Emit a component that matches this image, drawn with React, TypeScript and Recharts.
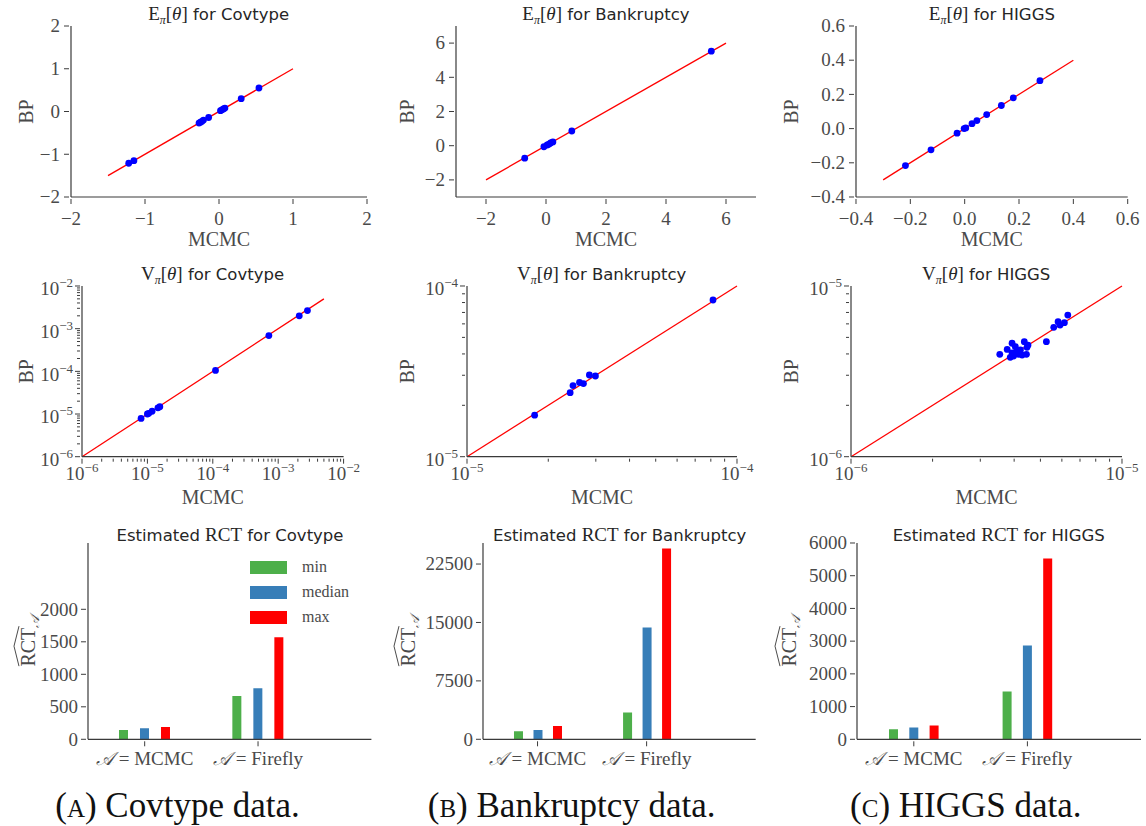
import React from "react";
import {
  ScatterChart,
  Scatter,
  XAxis,
  YAxis,
  ReferenceLine,
  BarChart,
  Bar,
  Legend,
  Label,
} from "recharts";

const SERIF = '"Liberation Serif", "DejaVu Serif", serif';
const SANS = '"DejaVu Sans", sans-serif';
const TITLE_INK = "#262626";
const TICK_INK = "#4a4a4a";
const AXIS_INK = "#3a3a3a";
const BLUE = "#0000ff";
const RED = "#ff0000";
const GREEN = "#4daf4a";
const STEEL = "#377eb8";

// ---- posterior means: MCMC vs BP ----
const covMeanMcmc = [-1.22, -1.15, -0.27, -0.25, -0.23, -0.21, -0.14, 0.02, 0.04, 0.06, 0.08, 0.3, 0.54];
const covMeanBp = [-1.21, -1.15, -0.27, -0.25, -0.23, -0.2, -0.14, 0.02, 0.04, 0.06, 0.08, 0.3, 0.55];
const bkMeanMcmc = [-0.71, -0.07, 0.04, 0.09, 0.14, 0.17, 0.23, 0.86, 5.51];
const bkMeanBp = [-0.73, -0.06, 0.04, 0.08, 0.14, 0.18, 0.22, 0.86, 5.53];
const hgMeanMcmc = [-0.218, -0.124, -0.028, -0.002, 0.004, 0.027, 0.045, 0.081, 0.135, 0.179, 0.277];
const hgMeanBp = [-0.216, -0.124, -0.027, 0.0, 0.004, 0.029, 0.047, 0.082, 0.135, 0.18, 0.28];

// ---- posterior variances: MCMC vs BP ----
const covVarMcmc = [8.0e-6, 1.0e-5, 1.05e-5, 1.18e-5, 1.45e-5, 1.55e-5, 1.1e-4, 7.2e-4, 2.1e-3, 2.8e-3];
const covVarBp = [7.9e-6, 1.0e-5, 1.04e-5, 1.16e-5, 1.4e-5, 1.48e-5, 1.05e-4, 6.9e-4, 2.0e-3, 2.65e-3];
const bkVarMcmc = [1.78e-5, 2.41e-5, 2.47e-5, 2.61e-5, 2.7e-5, 2.84e-5, 2.99e-5, 8.15e-5];
const bkVarBp = [1.75e-5, 2.37e-5, 2.61e-5, 2.72e-5, 2.68e-5, 3.01e-5, 2.97e-5, 8.28e-5];
const hgVarMcmc = [
  3.54e-6, 3.77e-6, 3.93e-6, 3.87e-6, 3.98e-6, 4.04e-6, 4.1e-6, 4.22e-6, 4.28e-6, 4.36e-6, 4.44e-6,
  4.46e-6, 4.5e-6, 5.26e-6, 5.6e-6, 5.81e-6, 5.91e-6, 6.13e-6, 6.31e-6, 4.15e-6, 3.93e-6,
];
const hgVarBp = [
  3.98e-6, 4.25e-6, 4.62e-6, 3.82e-6, 3.89e-6, 4.41e-6, 4.12e-6, 4.22e-6, 3.94e-6, 4.72e-6, 3.98e-6,
  4.37e-6, 4.51e-6, 4.72e-6, 5.73e-6, 6.18e-6, 5.91e-6, 6.1e-6, 6.76e-6, 3.98e-6, 4.05e-6,
];

// ---- y = x reference segments ----
const covMeanLine = [-1.5, 1];
const bkMeanLine = [-2, 6];
const hgMeanLine = [-0.3, 0.4];
const covVarLine = [1e-6, 5e-3];
const bkVarLine = [1e-5, 1e-4];
const hgVarLine = [1e-6, 1e-5];

// ---- estimated RCT ----
const rctGroups = ["MCMC", "Firefly"];
const rctStats = ["min", "median", "max"];
const covRctMin = [143, 667];
const covRctMedian = [169, 785];
const covRctMax = [190, 1569];
const bkRctMin = [1030, 3430];
const bkRctMedian = [1200, 14360];
const bkRctMax = [1710, 24480];
const hgRctMin = [307, 1464];
const hgRctMedian = [358, 2867];
const hgRctMax = [420, 5529];

// ---- ticks ----
const covMeanTicks = [-2, -1, 0, 1, 2];
const bkMeanTicks = [-2, 0, 2, 4, 6];
const hgMeanTicks = [-0.4, -0.2, 0, 0.2, 0.4, 0.6];
const covRctTicks = [0, 500, 1000, 1500, 2000];
const bkRctTicks = [0, 7500, 15000, 22500];
const hgRctTicks = [0, 1000, 2000, 3000, 4000, 5000, 6000];

function logTicks(lo: number, hi: number) {
  const out: number[] = [];
  for (let d = lo; d < hi; d++) for (let k = 1; k < 10; k++) out.push(k * Math.pow(10, d));
  out.push(Math.pow(10, hi));
  return out;
}

const ML = 100;
const MT = 10;
const MR = 34;
const MB = 62;

type Box = { x: number; y: number; w: number; h: number };

const minus = (s: string) => s.replace("-", "\u2212");
const isDecade = (v: number) => Math.abs(Math.log10(v) - Math.round(Math.log10(v))) < 1e-6;
const always = () => true;

const fmtInt = (v: number) => minus(String(v));
const fmtOne = (v: number) => minus(v.toFixed(1));
const fmtPow = (v: number) => [
  <tspan key="b">10</tspan>,
  <tspan key="e" dy={-8} fontSize={13}>
    {minus(String(Math.round(Math.log10(v))))}
  </tspan>,
];

const bottomTick = (fmt: (v: number) => any, major: (v: number) => boolean, dy: number, size = 19) => (p: any) => {
  const v = p.payload.value;
  const big = major(v);
  return (
    <g>
      <line x1={p.x} x2={p.x} y1={p.y} y2={p.y + (big ? 5 : 3)} stroke={AXIS_INK} strokeWidth={1} />
      {big && (
        <text x={p.x} y={p.y + dy + size * 0.33} textAnchor="middle" fontFamily={SERIF} fontSize={size} fill={TICK_INK}>
          {fmt(v)}
        </text>
      )}
    </g>
  );
};

const leftTick = (fmt: (v: number) => any, major: (v: number) => boolean, gap: number, dy = 0, size = 19) => (p: any) => {
  const v = p.payload.value;
  const big = major(v);
  return (
    <g>
      <line x1={p.x - (big ? 5 : 3)} x2={p.x} y1={p.y} y2={p.y} stroke={AXIS_INK} strokeWidth={1} />
      {big && (
        <text x={p.x - gap} y={p.y + dy + size * 0.33} textAnchor="end" fontFamily={SERIF} fontSize={size} fill={TICK_INK}>
          {fmt(v)}
        </text>
      )}
    </g>
  );
};

const xLabel = (text: string, dy: number) => (p: any) => {
  const vb = p.viewBox;
  return (
    <text x={vb.x + vb.width / 2} y={vb.y + dy + 7} textAnchor="middle" fontFamily={SERIF} fontSize={20} fill={TICK_INK}>
      {text}
    </text>
  );
};

const yLabel = (text: string, dx: number) => (p: any) => {
  const vb = p.viewBox;
  const cx = vb.x + vb.width - dx;
  const cy = vb.y + vb.height / 2;
  return (
    <text x={cx} y={cy + 7} transform={`rotate(-90 ${cx} ${cy})`} textAnchor="middle" fontFamily={SERIF} fontSize={20} fill={TICK_INK}>
      {text}
    </text>
  );
};

const rctLabel = (dx: number) => (p: any) => {
  const vb = p.viewBox;
  const cx = vb.x + vb.width - dx;
  const cy = vb.y + vb.height / 2;
  return (
    <g transform={`translate(${cx},${cy}) rotate(-90)`}>
      <text x={0} y={7} textAnchor="middle" fontFamily={SERIF} fontSize={20} fill={TICK_INK}>
        RCT
        <tspan dy={4} fontSize={13} fontStyle="italic">
          𝒜
        </tspan>
      </text>
      <path d="M -25 -9 L -5 -14 L 15 -9" fill="none" stroke={TICK_INK} strokeWidth={1} />
    </g>
  );
};

const dot = (p: any) => <circle cx={p.cx} cy={p.cy} r={3.4} fill={BLUE} />;

function Title({ box, y, children }: { box: Box; y: number; children: React.ReactNode }) {
  return (
    <div
      style={{
        position: "absolute",
        left: box.x + box.w / 2,
        top: y,
        transform: "translate(-50%, -50%)",
        whiteSpace: "nowrap",
        fontFamily: SANS,
        fontSize: 16.5,
        color: TITLE_INK,
        lineHeight: 1,
      }}
    >
      {children}
    </div>
  );
}

const Op = ({ sym }: { sym: string }) => (
  <span style={{ fontFamily: SERIF, fontSize: 19 }}>
    {sym}
    <sub style={{ fontSize: 12, fontStyle: "italic" }}>π</sub>[<i>θ</i>]
  </span>
);

function ScatterPanel(props: {
  box: Box;
  xs: number[];
  ys: number[];
  line: number[];
  domain: [number, number];
  ticks: number[];
  log?: boolean;
  fmt: (v: number) => any;
  tickDy: number;
  xLabelDy: number;
  yTickGap: number;
  yTickDy?: number;
  yLabelDx: number;
  title: React.ReactNode;
  titleY: number;
}) {
  const { box } = props;
  const data = props.xs.map((x, i) => ({ x, y: props.ys[i] }));
  const major = props.log ? isDecade : always;
  const scale = props.log ? "log" : "linear";
  const [a, b] = props.line;
  return (
    <>
      <div style={{ position: "absolute", left: box.x - ML, top: box.y - MT }}>
        <ScatterChart width={box.w + ML + MR} height={box.h + MT + MB} margin={{ top: MT, right: MR, bottom: 0, left: 0 }}>
          <XAxis
            type="number"
            dataKey="x"
            scale={scale}
            domain={props.domain}
            ticks={props.ticks}
            interval={0}
            allowDataOverflow
            height={MB}
            tickSize={0}
            tickLine={false}
            axisLine={{ stroke: AXIS_INK, strokeWidth: 1.2 }}
            tick={bottomTick(props.fmt, major, props.tickDy)}
          >
            <Label content={xLabel("MCMC", props.xLabelDy)} />
          </XAxis>
          <YAxis
            type="number"
            dataKey="y"
            scale={scale}
            domain={props.domain}
            ticks={props.ticks}
            interval={0}
            allowDataOverflow
            width={ML}
            tickSize={0}
            tickLine={false}
            axisLine={{ stroke: AXIS_INK, strokeWidth: 1.2 }}
            tick={leftTick(props.fmt, major, props.yTickGap, props.yTickDy ?? 0)}
          >
            <Label content={yLabel("BP", props.yLabelDx)} />
          </YAxis>
          <Scatter data={data} shape={dot} fill={BLUE} isAnimationActive={false} />
          <ReferenceLine
            segment={[
              { x: a, y: a },
              { x: b, y: b },
            ]}
            stroke={RED}
            strokeWidth={1.3}
            ifOverflow="visible"
          />
        </ScatterChart>
      </div>
      <Title box={box} y={props.titleY}>
        {props.title}
      </Title>
    </>
  );
}

const renderLegend = (p: any) => {
  const items = [...(p.payload || [])].sort(
    (u: any, v: any) => rctStats.indexOf(u.value) - rctStats.indexOf(v.value)
  );
  return (
    <div style={{ fontFamily: SERIF, fontSize: 16, color: TICK_INK }}>
      {items.map((e: any) => (
        <div key={e.value} style={{ display: "flex", alignItems: "center", height: 25 }}>
          <div style={{ width: 37, height: 13, background: e.color, marginRight: 15 }} />
          <span>{e.value}</span>
        </div>
      ))}
    </div>
  );
};

const barXTick = (p: any) => (
  <g>
    <line x1={p.x} x2={p.x} y1={p.y} y2={p.y + 5} stroke={AXIS_INK} strokeWidth={1} />
    <text x={p.x} y={p.y + 17.5 + 6.3} textAnchor="middle" fontFamily={SERIF} fontSize={19} fill={TICK_INK}>
      <tspan fontStyle="italic">𝒜</tspan> = {p.payload.value}
    </text>
  </g>
);

function BarPanel(props: {
  box: Box;
  mins: number[];
  medians: number[];
  maxs: number[];
  top: number;
  ticks: number[];
  gap: number;
  yLabelDx: number;
  title: string;
  legendAt?: { x: number; y: number };
}) {
  const { box } = props;
  const data = rctGroups.map((g, i) => ({
    name: g,
    min: props.mins[i],
    median: props.medians[i],
    max: props.maxs[i],
  }));
  const left = box.x - ML;
  const top = box.y - MT;
  return (
    <>
      <div style={{ position: "absolute", left, top }}>
        <BarChart
          width={box.w + ML + MR}
          height={box.h + MT + MB}
          margin={{ top: MT, right: MR, bottom: 0, left: 0 }}
          data={data}
          barSize={9}
          barGap={props.gap}
        >
          <XAxis
            dataKey="name"
            padding={{ left: 0, right: box.w / 5 }}
            interval={0}
            height={MB}
            tickSize={0}
            tickLine={false}
            axisLine={{ stroke: AXIS_INK, strokeWidth: 1.2 }}
            tick={barXTick}
          />
          <YAxis
            type="number"
            domain={[0, props.top]}
            ticks={props.ticks}
            interval={0}
            allowDataOverflow
            width={ML}
            tickSize={0}
            tickLine={false}
            axisLine={{ stroke: AXIS_INK, strokeWidth: 1.2 }}
            tick={leftTick(fmtInt, always, 8, 0, 19)}
          >
            <Label content={rctLabel(props.yLabelDx)} />
          </YAxis>
          {props.legendAt && (
            <Legend
              layout="vertical"
              align="center"
              verticalAlign="middle"
              content={renderLegend}
              wrapperStyle={{ left: props.legendAt.x - left, top: props.legendAt.y - top, width: 130 }}
            />
          )}
          <Bar dataKey="min" name="min" fill={GREEN} isAnimationActive={false} />
          <Bar dataKey="median" name="median" fill={STEEL} isAnimationActive={false} />
          <Bar dataKey="max" name="max" fill={RED} isAnimationActive={false} />
        </BarChart>
      </div>
      <Title box={box} y={535}>
        Estimated <span style={{ fontFamily: SERIF, fontSize: 19 }}>RCT</span> for {props.title}
      </Title>
    </>
  );
}

function Caption({ x, tag, text }: { x: number; tag: string; text: string }) {
  return (
    <div
      style={{
        position: "absolute",
        left: x,
        top: 805,
        transform: "translate(-50%, -50%)",
        whiteSpace: "nowrap",
        fontFamily: SERIF,
        fontSize: 35,
        color: "#111",
        lineHeight: 1,
      }}
    >
      (<span style={{ fontVariant: "small-caps" }}>{tag}</span>) {text}
    </div>
  );
}

const P1: Box = { x: 70.7, y: 25.7, w: 296, h: 171 };
const P2: Box = { x: 456, y: 25.7, w: 300, h: 171 };
const P3: Box = { x: 856, y: 25.7, w: 271.7, h: 171 };
const P4: Box = { x: 81.7, y: 286, w: 261.6, h: 170.7 };
const P5: Box = { x: 466.7, y: 286, w: 270, h: 170.7 };
const P6: Box = { x: 850.7, y: 286, w: 271, h: 170.7 };
const P7: Box = { x: 88.3, y: 543, w: 283.4, h: 196.3 };
const P8: Box = { x: 483.3, y: 543, w: 272.7, h: 196.3 };
const P9: Box = { x: 856.7, y: 543, w: 284, h: 196.3 };

export default function App() {
  return (
    <div
      style={{
        position: "absolute",
        left: 0,
        top: 0,
        width: 1146,
        height: 826,
        overflow: "hidden",
        background: "#fff",
      }}
    >
      <ScatterPanel
        box={P1}
        xs={covMeanMcmc}
        ys={covMeanBp}
        line={covMeanLine}
        domain={[-2, 2]}
        ticks={covMeanTicks}
        fmt={fmtInt}
        tickDy={20}
        xLabelDy={42}
        yTickGap={9}
        yLabelDx={45}
        titleY={15}
        title={
          <>
            <Op sym="E" /> for Covtype
          </>
        }
      />
      <ScatterPanel
        box={P2}
        xs={bkMeanMcmc}
        ys={bkMeanBp}
        line={bkMeanLine}
        domain={[-3, 7]}
        ticks={bkMeanTicks}
        fmt={fmtInt}
        tickDy={20}
        xLabelDy={42}
        yTickGap={9}
        yLabelDx={49}
        titleY={15}
        title={
          <>
            <Op sym="E" /> for Bankruptcy
          </>
        }
      />
      <ScatterPanel
        box={P3}
        xs={hgMeanMcmc}
        ys={hgMeanBp}
        line={hgMeanLine}
        domain={[-0.4, 0.6]}
        ticks={hgMeanTicks}
        fmt={fmtOne}
        tickDy={20}
        xLabelDy={42}
        yTickGap={9}
        yLabelDx={65}
        titleY={15}
        title={
          <>
            <Op sym="E" /> for HIGGS
          </>
        }
      />
      <ScatterPanel
        box={P4}
        xs={covVarMcmc}
        ys={covVarBp}
        line={covVarLine}
        domain={[1e-6, 1e-2]}
        ticks={logTicks(-6, -2)}
        log
        fmt={fmtPow}
        tickDy={15}
        xLabelDy={40}
        yTickGap={7}
        yTickDy={3}
        yLabelDx={56}
        titleY={275}
        title={
          <>
            <Op sym="V" /> for Covtype
          </>
        }
      />
      <ScatterPanel
        box={P5}
        xs={bkVarMcmc}
        ys={bkVarBp}
        line={bkVarLine}
        domain={[1e-5, 1e-4]}
        ticks={logTicks(-5, -4)}
        log
        fmt={fmtPow}
        tickDy={15}
        xLabelDy={40}
        yTickGap={7}
        yTickDy={3}
        yLabelDx={60}
        titleY={275}
        title={
          <>
            <Op sym="V" /> for Bankruptcy
          </>
        }
      />
      <ScatterPanel
        box={P6}
        xs={hgVarMcmc}
        ys={hgVarBp}
        line={hgVarLine}
        domain={[1e-6, 1e-5]}
        ticks={logTicks(-6, -5)}
        log
        fmt={fmtPow}
        tickDy={15}
        xLabelDy={40}
        yTickGap={7}
        yTickDy={3}
        yLabelDx={60}
        titleY={275}
        title={
          <>
            <Op sym="V" /> for HIGGS
          </>
        }
      />
      <BarPanel
        box={P7}
        mins={covRctMin}
        medians={covRctMedian}
        maxs={covRctMax}
        top={3020}
        ticks={covRctTicks}
        gap={12}
        yLabelDx={60}
        title="Covtype"
        legendAt={{ x: 250, y: 554.5 }}
      />
      <BarPanel
        box={P8}
        mins={bkRctMin}
        medians={bkRctMedian}
        maxs={bkRctMax}
        top={25200}
        ticks={bkRctTicks}
        gap={10.5}
        yLabelDx={75}
        title="Bankruptcy"
      />
      <BarPanel
        box={P9}
        mins={hgRctMin}
        medians={hgRctMedian}
        maxs={hgRctMax}
        top={6000}
        ticks={hgRctTicks}
        gap={11.3}
        yLabelDx={68}
        title="HIGGS"
      />
      <Caption x={177.5} tag="a" text="Covtype data." />
      <Caption x={571.7} tag="b" text="Bankruptcy data." />
      <Caption x={965.8} tag="c" text="HIGGS data." />
    </div>
  );
}
